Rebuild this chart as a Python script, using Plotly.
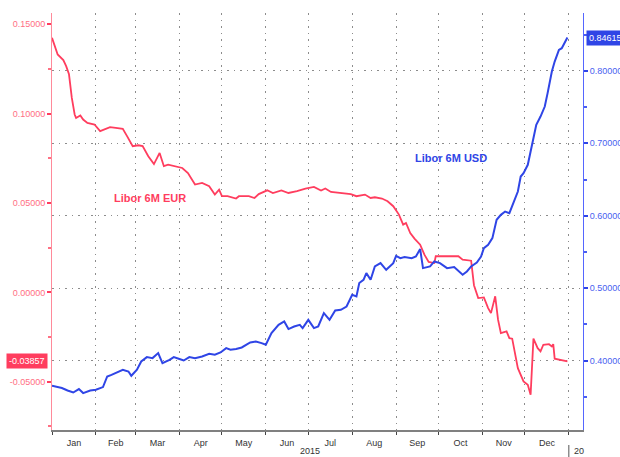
import plotly.graph_objects as go

# ---------- Data ---------- #
eur_dates = [
    "2015-01-01", "2015-01-05", "2015-01-09", "2015-01-11", "2015-01-13", "2015-01-15",
    "2015-01-17", "2015-01-18", "2015-01-21", "2015-01-23", "2015-01-26", "2015-01-31",
    "2015-02-04", "2015-02-07", "2015-02-11", "2015-02-15", "2015-02-20", "2015-02-23",
    "2015-02-27", "2015-03-03", "2015-03-06", "2015-03-10", "2015-03-14", "2015-03-18",
    "2015-03-21", "2015-03-24", "2015-03-29", "2015-04-03", "2015-04-07", "2015-04-12",
    "2015-04-17", "2015-04-22", "2015-04-26", "2015-04-29", "2015-05-01", "2015-05-05",
    "2015-05-11", "2015-05-13", "2015-05-20", "2015-05-24", "2015-05-27", "2015-06-02",
    "2015-06-06", "2015-06-12", "2015-06-17", "2015-06-23", "2015-06-29", "2015-07-05",
    "2015-07-10", "2015-07-13", "2015-07-17", "2015-07-24", "2015-07-31", "2015-08-04",
    "2015-08-10", "2015-08-14", "2015-08-17", "2015-08-22", "2015-08-26", "2015-08-30",
    "2015-09-03", "2015-09-06", "2015-09-08", "2015-09-11", "2015-09-14", "2015-09-18",
    "2015-09-21", "2015-09-24", "2015-09-28", "2015-09-29", "2015-10-05", "2015-10-15",
    "2015-10-18", "2015-10-24", "2015-10-26", "2015-10-29", "2015-11-02", "2015-11-05",
    "2015-11-07", "2015-11-10", "2015-11-12", "2015-11-14", "2015-11-18", "2015-11-20",
    "2015-11-22", "2015-11-26", "2015-11-30", "2015-12-03", "2015-12-05", "2015-12-07",
    "2015-12-10", "2015-12-12", "2015-12-14", "2015-12-18", "2015-12-20", "2015-12-21",
    "2015-12-22", "2015-12-29", "2015-12-31",
]
eur_values = [
    0.1424, 0.1331, 0.1300, 0.1266, 0.1220, 0.1088,
    0.0995, 0.0976, 0.0990, 0.0967, 0.0948, 0.0939,
    0.0902, 0.0911, 0.0924, 0.0920, 0.0915, 0.0874,
    0.0818, 0.0823, 0.0818, 0.0762, 0.0718, 0.0780,
    0.0706, 0.0715, 0.0706, 0.0696, 0.0668, 0.0603,
    0.0612, 0.0594, 0.0547, 0.0575, 0.0538, 0.0538,
    0.0525, 0.0538, 0.0538, 0.0528, 0.0550, 0.0571,
    0.0556, 0.0570, 0.0556, 0.0566, 0.0581, 0.0590,
    0.0570, 0.0581, 0.0562, 0.0556, 0.0550, 0.0538,
    0.0547, 0.0528, 0.0532, 0.0525, 0.0510, 0.0482,
    0.0435, 0.0379, 0.0388, 0.0332, 0.0301, 0.0267,
    0.0211, 0.0170, 0.0164, 0.0202, 0.0202, 0.0202,
    0.0183, 0.0177, 0.0040, -0.0032, -0.0028, -0.0088,
    -0.0116, -0.0022, -0.0153, -0.0228, -0.0218, -0.0256,
    -0.0259, -0.0424, -0.0498, -0.0517, -0.0573, -0.0259,
    -0.0312, -0.0330, -0.0293, -0.0290, -0.0302, -0.0290,
    -0.0371, -0.0382, -0.03857,
]

usd_dates = [
    "2015-01-01", "2015-01-08", "2015-01-12", "2015-01-16", "2015-01-20", "2015-01-23",
    "2015-01-28", "2015-02-01", "2015-02-06", "2015-02-09", "2015-02-12", "2015-02-16",
    "2015-02-20", "2015-02-24", "2015-02-26", "2015-03-02", "2015-03-05", "2015-03-09",
    "2015-03-13", "2015-03-17", "2015-03-20", "2015-03-25", "2015-03-28", "2015-04-01",
    "2015-04-04", "2015-04-08", "2015-04-12", "2015-04-17", "2015-04-22", "2015-04-26",
    "2015-04-30", "2015-05-04", "2015-05-07", "2015-05-11", "2015-05-15", "2015-05-21",
    "2015-05-25", "2015-05-29", "2015-06-01", "2015-06-05", "2015-06-10", "2015-06-14",
    "2015-06-17", "2015-06-21", "2015-06-25", "2015-06-27", "2015-07-01", "2015-07-05",
    "2015-07-08", "2015-07-12", "2015-07-16", "2015-07-20", "2015-07-24", "2015-07-28",
    "2015-08-01", "2015-08-04", "2015-08-06", "2015-08-09", "2015-08-11", "2015-08-14",
    "2015-08-17", "2015-08-21", "2015-08-25", "2015-08-30", "2015-09-01", "2015-09-04",
    "2015-09-07", "2015-09-12", "2015-09-15", "2015-09-18", "2015-09-20", "2015-09-25",
    "2015-09-28", "2015-10-02", "2015-10-05", "2015-10-07", "2015-10-12", "2015-10-18",
    "2015-10-21", "2015-10-24", "2015-10-28", "2015-10-31", "2015-11-02", "2015-11-05",
    "2015-11-08", "2015-11-10", "2015-11-11", "2015-11-14", "2015-11-17", "2015-11-20",
    "2015-11-23", "2015-11-26", "2015-11-28", "2015-11-30", "2015-12-03", "2015-12-06",
    "2015-12-09", "2015-12-12", "2015-12-15", "2015-12-17", "2015-12-20", "2015-12-22",
    "2015-12-25", "2015-12-27", "2015-12-30", "2015-12-31",
]
usd_values = [
    0.3650, 0.3620, 0.3586, 0.3558, 0.3605, 0.3550,
    0.3586, 0.3596, 0.3633, 0.3779, 0.3802, 0.3834,
    0.3872, 0.3848, 0.3789, 0.3872, 0.3986, 0.4047,
    0.4033, 0.4102, 0.3964, 0.4010, 0.4047, 0.4020,
    0.4000, 0.4047, 0.4033, 0.4055, 0.4093, 0.4079,
    0.4111, 0.4171, 0.4148, 0.4158, 0.4180, 0.4249,
    0.4263, 0.4240, 0.4217, 0.4379, 0.4493, 0.4539,
    0.4434, 0.4470, 0.4493, 0.4448, 0.4562, 0.4448,
    0.4470, 0.4655, 0.4562, 0.4690, 0.4700, 0.4746,
    0.4907, 0.4884, 0.5070, 0.5115, 0.5207, 0.5115,
    0.5300, 0.5345, 0.5253, 0.5345, 0.5446, 0.5414,
    0.5428, 0.5414, 0.5437, 0.5539, 0.5276, 0.5300,
    0.5368, 0.5345, 0.5300, 0.5276, 0.5290, 0.5184,
    0.5230, 0.5300, 0.5354, 0.5437, 0.5552, 0.5598,
    0.5690, 0.5850, 0.5943, 0.6012, 0.6058, 0.6036,
    0.6174, 0.6334, 0.6541, 0.6588, 0.6703, 0.6956,
    0.7255, 0.7370, 0.7508, 0.7693, 0.7991, 0.8129,
    0.8291, 0.8314, 0.8430, 0.84615,
]

left_ticks = [-0.05, 0.0, 0.05, 0.10, 0.15]
right_ticks = [0.40, 0.50, 0.60, 0.70, 0.80]

# ---------- Colours ---------- #
RED = "#ff3d5e"
RED_TXT = "#ff7084"
BLUE = "#2f45e6"
BLUE_TXT = "#4a5ef0"
GRID = "#8c8c8c"
GRID_DASH = "1.5px,5px"
FONT = "Liberation Sans"

fig = go.Figure()
fig.add_trace(go.Scatter(x=usd_dates, y=usd_values, yaxis="y2", mode="lines",
                         line=dict(color=BLUE, width=2), name="Libor 6M USD"))
fig.add_trace(go.Scatter(x=eur_dates, y=eur_values, yaxis="y", mode="lines",
                         line=dict(color=RED, width=1.8), name="Libor 6M EUR"))

fig.update_layout(
    width=620, height=457,
    margin=dict(l=52, r=37, t=13, b=27, autoexpand=False),
    paper_bgcolor="white", plot_bgcolor="white",
    showlegend=False,
    font=dict(family=FONT, size=9, color="#333333"),
    xaxis=dict(
        type="date", range=["2015-01-01", "2016-01-11"],
        tick0="2015-01-01", dtick="M1", tickformat="%b", ticklabelmode="period",
        showgrid=True, gridcolor=GRID, griddash=GRID_DASH, gridwidth=1,
        showline=True, linecolor="#808080", linewidth=2,
        ticks="outside", ticklen=3, tickcolor="#444444",
        tickfont=dict(size=9, color="#333333"),
    ),
    yaxis=dict(
        range=[-0.077, 0.1563],
        tickvals=left_ticks, ticktext=[f"{v:.5f}" for v in left_ticks],
        showgrid=False, zeroline=False,
        showline=True, linecolor="#ff8a9a", linewidth=1,
        ticks="outside", ticklen=4, tickwidth=2, tickcolor=RED,
        minor=dict(tickvals=[-0.075, -0.025, 0.025, 0.075, 0.125],
                   ticks="outside", ticklen=3, tickcolor=RED_TXT, showgrid=False),
        tickfont=dict(size=9, color=RED_TXT),
    ),
    yaxis2=dict(
        overlaying="y", side="right", range=[0.304, 0.880],
        tickvals=right_ticks, ticktext=[f"{v:.5f}" for v in right_ticks],
        showgrid=True, gridcolor=GRID, griddash=GRID_DASH, gridwidth=1, zeroline=False,
        showline=True, linecolor="#5566ff", linewidth=1,
        ticks="outside", ticklen=4, tickwidth=2, tickcolor=BLUE,
        minor=dict(tickvals=[0.35, 0.45, 0.55, 0.65, 0.75, 0.85],
                   ticks="outside", ticklen=3, tickcolor=BLUE_TXT, showgrid=False),
        tickfont=dict(size=9, color=BLUE_TXT),
    ),
)

# series labels
fig.add_annotation(x="2015-03-11", y=0.0526, xref="x", yref="y", text="<b>Libor 6M EUR</b>",
                   showarrow=False, font=dict(family=FONT, size=11, color=RED))
fig.add_annotation(x="2015-10-10", y=0.68, xref="x", yref="y2", text="<b>Libor 6M USD</b>",
                   showarrow=False, font=dict(family=FONT, size=11, color=BLUE))

# last value boxes
fig.add_annotation(x=0, xref="paper", xanchor="right", xshift=-4,
                   y=eur_values[-1], yref="y", text=f"{eur_values[-1]:.5f}",
                   showarrow=False, bgcolor=RED, borderpad=2,
                   font=dict(family=FONT, size=9, color="white"))
fig.add_annotation(x=1, xref="paper", xanchor="left", xshift=3,
                   y=usd_values[-1], yref="y2", text=f"{usd_values[-1]:.5f}",
                   showarrow=False, bgcolor=BLUE, borderpad=2,
                   font=dict(family=FONT, size=9, color="white"))

# year labels under the month axis
fig.add_annotation(x="2015-07-02", xref="x", y=0, yref="paper", yanchor="middle", yshift=-21,
                   text="2015", showarrow=False, font=dict(family=FONT, size=9, color="#333333"))
fig.add_annotation(x="2016-01-01", xref="x", xanchor="left", xshift=3, y=0, yref="paper",
                   yanchor="middle", yshift=-21, text="20", showarrow=False,
                   font=dict(family=FONT, size=9, color="#333333"))
fig.add_shape(type="line", x0="2016-01-01", x1="2016-01-01", xref="x",
              y0=-0.036, y1=-0.07, yref="paper", line=dict(color="#555555", width=1))

# drop the default page margin so the figure sits at the window's corner
fig.write_html("out.html", config={"displayModeBar": False},
               post_script="document.body.style.margin='0';")
